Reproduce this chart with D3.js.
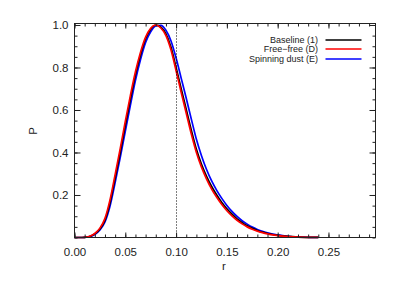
<!DOCTYPE html>
<html><head><meta charset="utf-8">
<script src="https://cdn.jsdelivr.net/npm/d3@7"></script>
<style>body{margin:0;background:#fff}svg{display:block}text{font-family:"Liberation Sans",Arial,sans-serif;fill:#222}</style>
</head><body><svg id="c" width="399" height="285"></svg>
<script>
// r grid
const rValues = [0.000,0.005,0.010,0.015,0.020,0.025,0.030,0.035,0.040,0.045,0.050,0.055,0.060,0.065,0.070,0.075,0.080,0.085,0.090,0.095,0.100,0.105,0.110,0.115,0.120,0.125,0.130,0.135,0.140,0.145,0.150,0.155,0.160,0.165,0.170,0.175,0.180,0.185,0.190,0.195,0.200,0.210,0.220,0.230,0.240];
const baseline = [0,0,0.001,0.005,0.017,0.040,0.082,0.165,0.280,0.400,0.528,0.650,0.765,0.860,0.935,0.980,1.000,0.990,0.958,0.895,0.800,0.700,0.603,0.505,0.415,0.345,0.288,0.240,0.200,0.165,0.135,0.110,0.088,0.070,0.055,0.043,0.033,0.025,0.019,0.014,0.010,0.005,0.002,0.0008,0.0002];
const freefree = [0,0,0.001,0.006,0.019,0.044,0.090,0.178,0.296,0.418,0.546,0.668,0.780,0.872,0.943,0.985,1.000,0.986,0.950,0.882,0.785,0.683,0.585,0.487,0.400,0.331,0.275,0.228,0.189,0.155,0.126,0.102,0.081,0.064,0.050,0.039,0.030,0.023,0.017,0.012,0.009,0.0045,0.0018,0.0007,0.0002];
const spinning = [0,0,0.001,0.004,0.014,0.035,0.073,0.148,0.258,0.376,0.500,0.622,0.740,0.838,0.918,0.968,0.995,0.998,0.975,0.925,0.845,0.750,0.655,0.557,0.462,0.385,0.320,0.266,0.222,0.184,0.151,0.123,0.099,0.079,0.063,0.049,0.038,0.029,0.022,0.016,0.012,0.006,0.0025,0.001,0.0003];
const seriesNames = ["Baseline (1)","Free\u2212free (D)","Spinning dust (E)"];
const seriesColors = ["#000000","#ff0000","#0000ff"];
const xTicks = [0.00,0.05,0.10,0.15,0.20,0.25];
const yTicks = [0.2,0.4,0.6,0.8,1.0];
const markerR = 0.10;

const svg = d3.select("#c");
const L=74.5, R=375.5, T=23.5, B=237.5;
const x = d3.scaleLinear().domain([0,0.2963]).range([L,R]);
const y = d3.scaleLinear().domain([0,1.007]).range([B,T]);

const line = d3.line().x(d=>x(d[0])).y(d=>y(d[1])).curve(d3.curveMonotoneX);
const data = [baseline,freefree,spinning];
const order = [2,0,1];
const g = svg.append("g");
order.forEach(i=>{
  g.append("path").datum(rValues.map((r,k)=>[r,data[i][k]]))
   .attr("d",line).attr("fill","none").attr("stroke",seriesColors[i]).attr("stroke-width",1.7);
});

// dotted marker
svg.append("line").attr("x1",Math.round(x(markerR))+0.5).attr("x2",Math.round(x(markerR))+0.5).attr("y1",B).attr("y2",T)
  .attr("stroke","#000").attr("stroke-width",1).attr("stroke-dasharray","1,2");

// axes frame
svg.append("rect").attr("x",L).attr("y",T).attr("width",R-L).attr("height",B-T)
  .attr("fill","none").attr("stroke","#222").attr("stroke-width",1);

const minorX = d3.range(0,0.2963,0.01);
const minorY = d3.range(0,1.0,0.05);
const axB = d3.axisBottom(x).tickValues(minorX).tickSize(-3).tickFormat("");
const axT = d3.axisTop(x).tickValues(minorX).tickSize(-3).tickFormat("");
const axBm = d3.axisBottom(x).tickValues(xTicks).tickSize(-5).tickPadding(10).tickFormat(d3.format(".2f"));
const axTm = d3.axisTop(x).tickValues(xTicks).tickSize(-5).tickFormat("");
const axL = d3.axisLeft(y).tickValues(minorY).tickSize(-3).tickFormat("");
const axR = d3.axisRight(y).tickValues(minorY).tickSize(-3).tickFormat("");
const axLm = d3.axisLeft(y).tickValues(yTicks).tickSize(-6).tickPadding(6).tickFormat(d3.format(".1f"));
const axRm = d3.axisRight(y).tickValues(yTicks).tickSize(-6).tickFormat("");
[[axB,`translate(0,${B})`],[axT,`translate(0,${T})`],[axBm,`translate(0,${B})`],[axTm,`translate(0,${T})`],
 [axL,`translate(${L},0)`],[axR,`translate(${R},0)`],[axLm,`translate(${L},0)`],[axRm,`translate(${R},0)`]].forEach(([a,t])=>{
  const gg = svg.append("g").attr("transform",t).call(a);
  gg.select(".domain").remove();
  gg.selectAll("line").attr("stroke","#222");
  gg.selectAll("text").attr("font-size",11.5).attr("font-family","Liberation Sans, Arial, sans-serif").attr("fill","#222");
});

svg.append("text").attr("x",x(0.147)).attr("y",270).attr("text-anchor","middle").attr("font-size",11.5).text("r");
svg.append("text").attr("transform","translate(37,131) rotate(-90)").attr("text-anchor","middle").attr("font-size",11.5).text("P");

// legend
const legY = [40,49,59];
seriesNames.forEach((n,i)=>{
  svg.append("text").attr("x",318).attr("y",legY[i]+3).attr("text-anchor","end").attr("font-size",9).text(n);
  svg.append("line").attr("x1",325.5).attr("x2",361.5).attr("y1",legY[i]).attr("y2",legY[i])
    .attr("stroke",seriesColors[i]).attr("stroke-width",1.4);
});
</script></body></html>
